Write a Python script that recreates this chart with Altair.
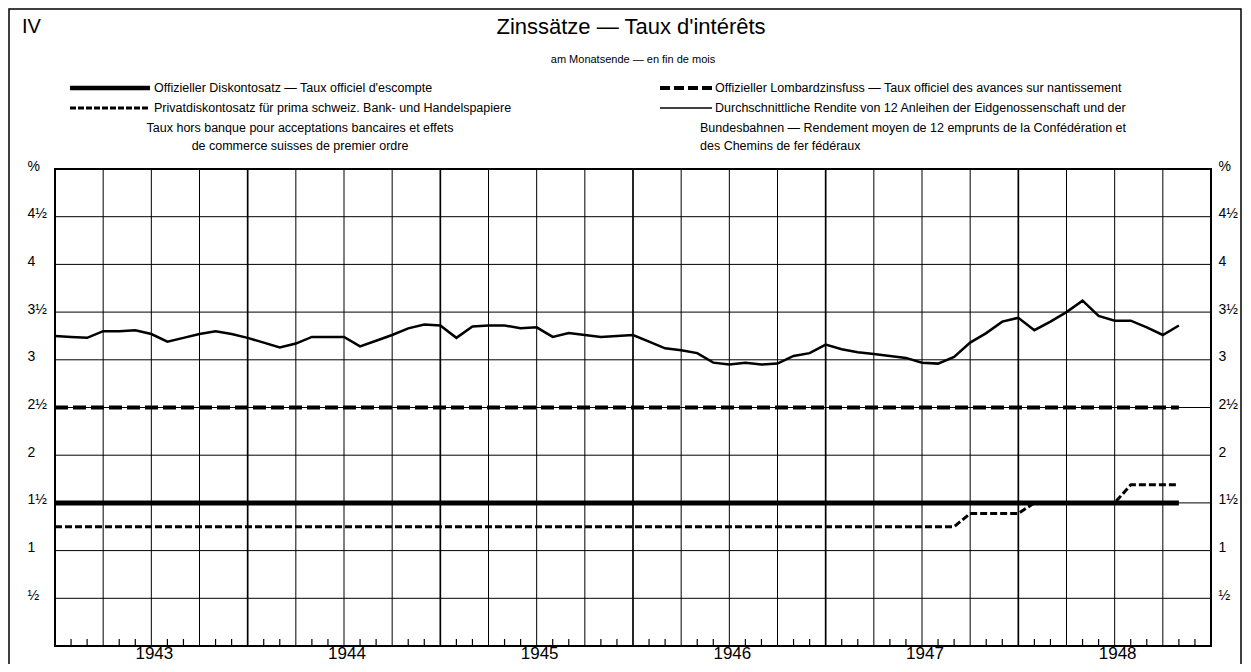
import altair as alt
import pandas as pd

FONT = "Liberation Sans"

# ---- data (month index 0 = end of Dec 1942, 72 = end of Dec 1948) ----
yield_months = list(range(0, 71))
yield_vals = [3.25, 3.24, 3.23, 3.30, 3.30, 3.31, 3.27, 3.19, 3.23, 3.27,
              3.30, 3.27, 3.23, 3.18, 3.13, 3.17, 3.24, 3.24, 3.24, 3.14,
              3.20, 3.26, 3.33, 3.37, 3.36, 3.23, 3.35, 3.36, 3.36, 3.33,
              3.34, 3.24, 3.28, 3.26, 3.24, 3.25, 3.26, 3.19, 3.12, 3.10,
              3.07, 2.97, 2.95, 2.97, 2.95, 2.96, 3.04, 3.07, 3.16, 3.11,
              3.08, 3.06, 3.04, 3.02, 2.97, 2.96, 3.03, 3.18, 3.28, 3.40,
              3.44, 3.31, 3.40, 3.50, 3.62, 3.46, 3.41, 3.41, 3.34, 3.26,
              3.36]
official_months = [0, 70]
official_vals = [1.5, 1.5]
lombard_months = [0, 70]
lombard_vals = [2.5, 2.5]
private_months = [0, 56, 57, 60, 61, 66, 67, 70]
private_vals = [1.25, 1.25, 1.39, 1.39, 1.5, 1.5, 1.69, 1.69]
years = [1943, 1944, 1945, 1946, 1947, 1948]
y_grid = [0.5, 1, 1.5, 2, 2.5, 3, 3.5, 4, 4.5]
y_labels = [0.5, 1, 1.5, 2, 2.5, 3, 3.5, 4, 4.5, 5]
quarter_months = [m for m in range(3, 72, 3) if m % 12 != 0]
year_months = [12, 24, 36, 48, 60]
tick_months = [m for m in range(1, 72) if m % 3 != 0]

W, H = 1156, 477
OX, OY = 55, 169  # page position of plot origin

xs = alt.Scale(domain=[0, 72], nice=False, zero=False)
ys = alt.Scale(domain=[0, 5], nice=False, zero=False)

LABEL_EXPR = ("datum.value == 5 ? '%' : datum.value == 0.5 ? '   \u00bd' : "
              "(datum.value % 1 == 0 ? format(datum.value, 'd') : "
              "format(floor(datum.value), 'd') + '\u00bd')")


def yaxis(orient, pad):
    return alt.Axis(orient=orient, values=y_labels, labelExpr=LABEL_EXPR,
                    domain=False, ticks=False, grid=False, title=None,
                    labelFont=FONT, labelFontSize=14, labelColor="black",
                    labelAlign="left", labelBaseline="middle", labelPadding=pad,
                    labelOffset=-3, labelOverlap=False)


def X(field):
    return alt.X(field, scale=xs, axis=None)


def Y(field, axis=None):
    return alt.Y(field, scale=ys, axis=axis)


hgrid = alt.Chart(pd.DataFrame({"v": y_grid})).mark_rule(
    color="black", strokeWidth=1).encode(y=Y("v:Q", yaxis("left", 28)))

rgrid = alt.Chart(pd.DataFrame({"v": y_labels})).mark_rule(
    opacity=0).encode(y=Y("v:Q", yaxis("right", 7)))

qgrid = alt.Chart(pd.DataFrame({"m": quarter_months})).mark_rule(
    color="black", strokeWidth=1).encode(x=X("m:Q"))
ygrid = alt.Chart(pd.DataFrame({"m": year_months})).mark_rule(
    color="black", strokeWidth=1.7).encode(x=X("m:Q"))

ticks = alt.Chart(pd.DataFrame({"m": tick_months})).mark_rule(
    color="black", strokeWidth=1.2).encode(
    x=X("m:Q"), y=alt.value(H), y2=alt.value(H - 7))

year_lbl = alt.Chart(pd.DataFrame({"year": years})).transform_calculate(
    mc="(datum.year - 1943) * 12 + 6").mark_text(
    font=FONT, fontSize=17, color="black", baseline="bottom", dx=3).encode(
    x=X("mc:Q"), y=alt.value(H + 17), text="year:N")

ln_yield = alt.Chart(pd.DataFrame({"m": yield_months, "v": yield_vals})).mark_line(
    color="black", strokeWidth=2.5).encode(x=X("m:Q"), y=Y("v:Q"))
ln_off = alt.Chart(pd.DataFrame({"m": official_months, "v": official_vals})).mark_line(
    color="black", strokeWidth=5).encode(x=X("m:Q"), y=Y("v:Q"))
ln_lomb = alt.Chart(pd.DataFrame({"m": lombard_months, "v": lombard_vals})).mark_line(
    color="black", strokeWidth=4, strokeDash=[13, 5]).encode(x=X("m:Q"), y=Y("v:Q"))
ln_priv = alt.Chart(pd.DataFrame({"m": private_months, "v": private_vals})).mark_line(
    color="black", strokeWidth=3, strokeDash=[7, 3]).encode(x=X("m:Q"), y=Y("v:Q"))


def txt(s, px, py, size, align="left", weight="normal"):
    return alt.Chart(pd.DataFrame({"t": [s]})).mark_text(
        align=align, baseline="middle", fontSize=size, font=FONT,
        color="black", fontWeight=weight).encode(
        x=alt.value(px - OX), y=alt.value(py - OY), text="t:N")


def sample(x1, x2, py, width, dash=None):
    kw = dict(color="black", strokeWidth=width)
    if dash:
        kw["strokeDash"] = dash
    return alt.Chart(pd.DataFrame({"k": [0]})).mark_rule(**kw).encode(
        x=alt.value(x1 - OX), x2=alt.value(x2 - OX), y=alt.value(py - OY))


FS = 12.5
header = [
    txt("IV", 22, 27, 20),
    txt("Zinss\u00e4tze \u2014 Taux d'int\u00e9r\u00eats", 631, 27, 22, "center"),
    txt("am Monatsende \u2014 en fin de mois", 633, 60, 11, "center"),
    sample(70, 150, 88, 4.5),
    txt("Offizieller Diskontosatz \u2014 Taux officiel d'escompte", 154, 88, FS),
    sample(660, 712, 88, 4, [10, 4]),
    txt("Offizieller Lombardzinsfuss \u2014 Taux officiel des avances sur nantissement", 715, 88, FS),
    sample(70, 150, 108, 3, [6, 2]),
    txt("Privatdiskontosatz f\u00fcr prima schweiz. Bank- und Handelspapiere", 154, 108, FS),
    sample(660, 712, 108, 1.5),
    txt("Durchschnittliche Rendite von 12 Anleihen der Eidgenossenschaft und der", 715, 108, FS),
    txt("Taux hors banque pour acceptations bancaires et effets", 300, 128, FS, "center"),
    txt("de commerce suisses de premier ordre", 300, 146, FS, "center"),
    txt("Bundesbahnen \u2014 Rendement moyen de 12 emprunts de la Conf\u00e9d\u00e9ration et", 700, 128, FS),
    txt("des Chemins de fer f\u00e9d\u00e9raux", 700, 146, FS),
]

frame = alt.Chart(pd.DataFrame({"k": [0]})).mark_rect(
    fillOpacity=0, stroke="black", strokeWidth=1.5).encode(
    x=alt.value(9 - OX), x2=alt.value(1241 - OX),
    y=alt.value(9 - OY), y2=alt.value(700 - OY))

chart = alt.layer(
    hgrid, rgrid, qgrid, ygrid, ticks, year_lbl,
    ln_off, ln_lomb, ln_priv, ln_yield,
    *header, frame
).resolve_axis(y="independent").properties(
    width=W, height=H,
    autosize=alt.AutoSizeParams(type="none"),
    padding={"left": OX - 8, "top": OY - 8, "right": 1235 - (OX - 8) - W,
             "bottom": 656 - (OY - 8) - H},
    background="white",
).configure_view(stroke="black", strokeWidth=2)

chart.save("out.html", embed_options={"renderer": "svg", "actions": False})
